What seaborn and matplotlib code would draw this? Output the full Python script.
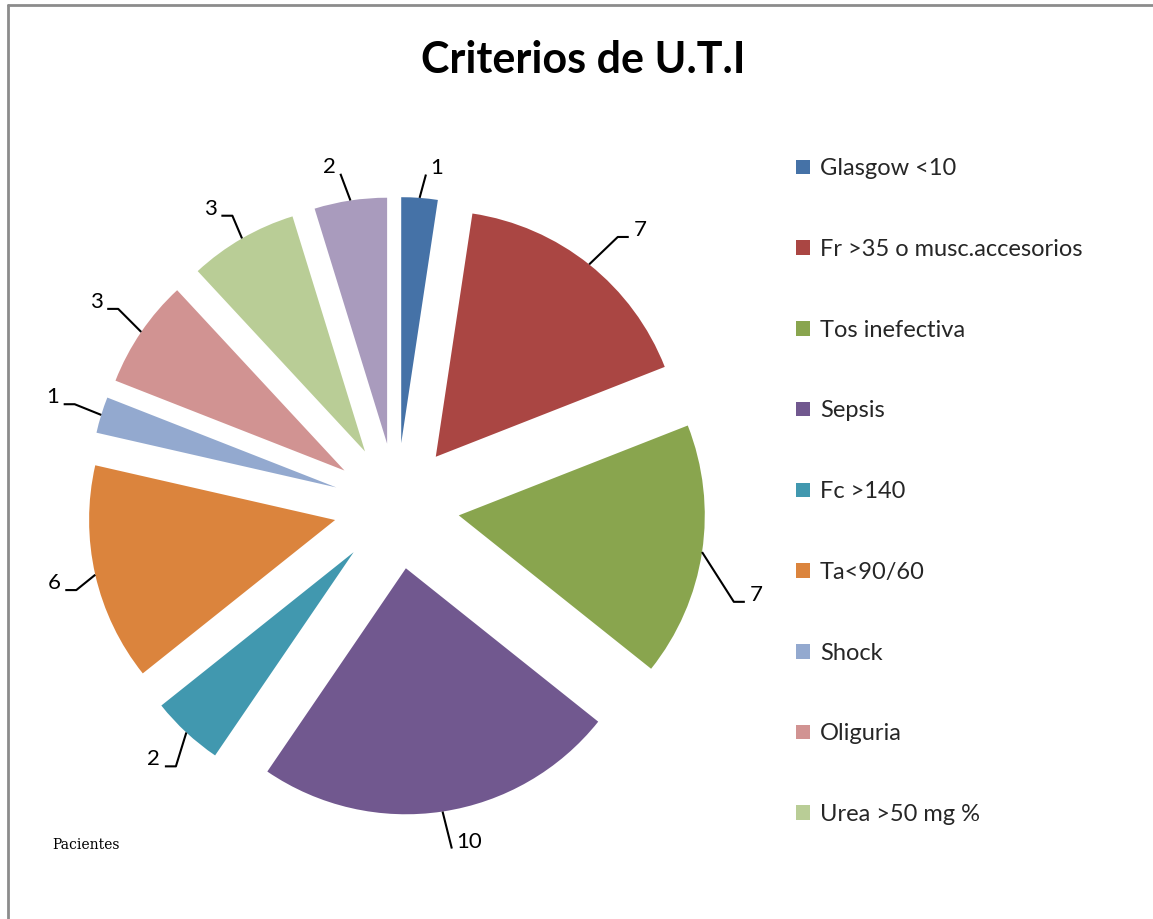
import numpy as np
import matplotlib
matplotlib.use("Agg")
import matplotlib.pyplot as plt
from matplotlib.patches import Patch
from matplotlib.lines import Line2D
import seaborn as sns

# ---------------------------------------------------------------------
# Data
# ---------------------------------------------------------------------
criterios = ["Glasgow <10", "Fr >35 o musc.accesorios", "Tos inefectiva",
             "Sepsis", "Fc >140", "Ta<90/60", "Shock", "Oliguria",
             "Urea >50 mg %", "Otros"]
pacientes = [1, 7, 7, 10, 2, 6, 1, 3, 3, 2]
colores = ["#4572A7", "#AA4643", "#89A54E", "#71588F", "#4198AF",
           "#DB843D", "#93A9CF", "#D19392", "#B9CD96", "#A99BBD"]
n_legend = 9  # the last slice is not shown in the legend

# label placement (radius factor, angle nudge in degrees) - layout only
lbl_r = [1.13, 1.24, 1.25, 1.14, 1.17, 1.17, 1.21, 1.22, 1.17, 1.15]
lbl_dang = [-3.1, -3.4, -6.4, 4.4, -1.1, -0.2, -0.5, 0.1, 2.5, 3.2]

sns.set_theme(style="white")
plt.rcParams["font.family"] = ["Lato", "DejaVu Sans"]
palette = sns.color_palette(colores)

W, H = 1153, 919
fig = plt.figure(figsize=(W / 100, H / 100), dpi=100)
ax = fig.add_axes([0, 0, 1, 1])

# pie geometry in pixels -> data units (1 unit = slice radius)
R = 246.0
cx, cy = 396.5, 506.0
explode = 0.256

wedges, _ = ax.pie(pacientes, colors=palette, startangle=90, counterclock=False,
                   explode=[explode] * len(pacientes), radius=1.0,
                   wedgeprops=dict(linewidth=0))

ax.set_xlim(-cx / R, (W - cx) / R)
ax.set_ylim(-(H - cy) / R, cy / R)
ax.set_aspect("auto")
ax.axis("off")

# value labels with leader lines (Excel style: slanted line + short tick)
px = 1.0 / R
for w, v, rr, da in zip(wedges, pacientes, lbl_r, lbl_dang):
    mid = np.deg2rad((w.theta1 + w.theta2) / 2)
    d = np.array([np.cos(mid), np.sin(mid)])
    c = explode * d
    a = c + 1.0 * d
    la = mid + np.deg2rad(da)
    t = c + rr * np.array([np.cos(la), np.sin(la)])
    side = 1 if d[0] >= 0 else -1
    hw = 6 * len(str(v))
    e = t + np.array([-side * (hw + 5) * px, -7 * px])
    if abs(d[1]) < 0.9:
        s = e - np.array([side * 11 * px, 0])
        xs, ys = [a[0], s[0], e[0]], [a[1], s[1], e[1]]
    else:
        xs, ys = [a[0], e[0]], [a[1], e[1]]
    ax.plot(xs, ys, color="black", lw=1.5, solid_capstyle="butt")
    ax.text(t[0], t[1], str(v), ha="center", va="center", fontsize=16,
            color="black")

# legend (9 entries)
handles = [Patch(facecolor=palette[i], edgecolor="none") for i in range(n_legend)]
leg = fig.legend(handles, criterios[:n_legend], loc="upper left",
                 bbox_to_anchor=(775 / W, 1 - 137 / H), frameon=False,
                 fontsize=17, labelspacing=2.53, handlelength=0.58,
                 handleheight=0.58, handletextpad=0.42)

fig.text(583 / W, 1 - 60 / H, "Criterios de U.T.I", ha="center", va="center",
         fontsize=31, fontweight="bold", color="black")
fig.text(52 / W, 1 - 845 / H, "Pacientes", ha="left", va="center",
         fontsize=10, color="black", family=["DejaVu Serif"])

# chart border (top and left visible)
fig.add_artist(Line2D([8 / W, 8 / W], [0, 1 - 5 / H], color="#8c8c8c", lw=2,
                      transform=fig.transFigure))
fig.add_artist(Line2D([8 / W, 1], [1 - 5 / H, 1 - 5 / H], color="#8c8c8c", lw=2,
                      transform=fig.transFigure))

fig.savefig("out.png", dpi=100, facecolor="white")
